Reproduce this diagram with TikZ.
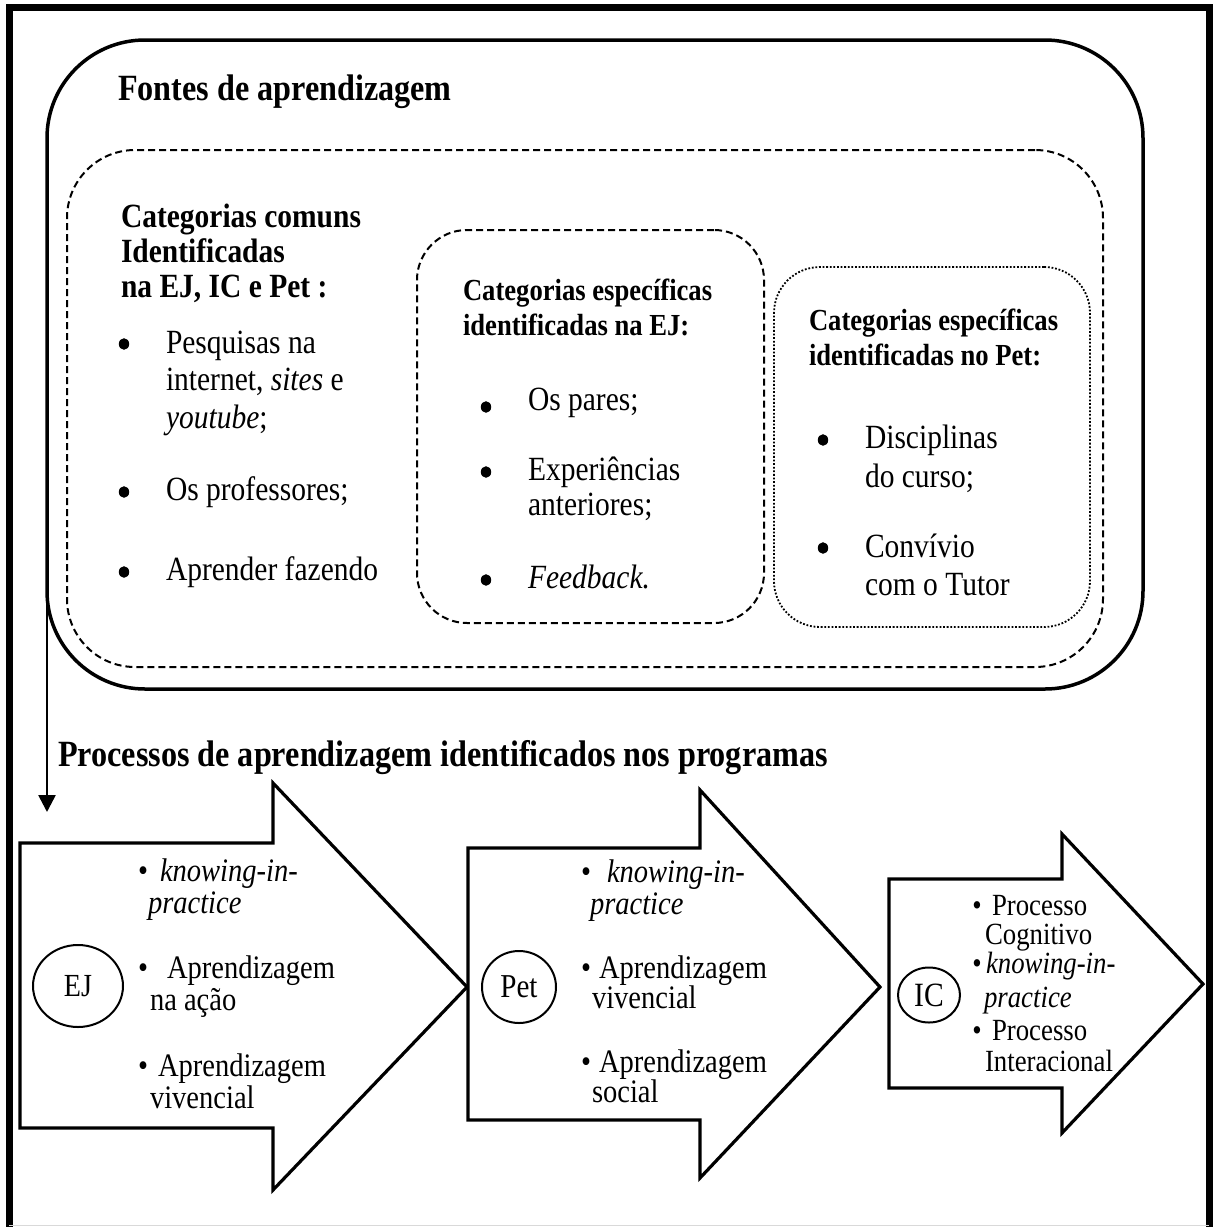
\documentclass[tikz,border=0pt]{standalone}
\usepackage{fontspec}
\setmainfont[FakeStretch=0.87]{Liberation Serif}
\usetikzlibrary{arrows.meta,shapes.geometric}
\begin{document}
\begin{tikzpicture}[x=0.5pt,y=-0.5pt,
  every node/.style={inner sep=0pt, outer sep=0pt},
  ln/.style={anchor=base west},
  tbig/.style={ln, font=\bfseries\fontsize{18.5}{21}\selectfont},
  thd/.style={ln, font=\bfseries\fontsize{16.95}{19}\selectfont},
  thds/.style={ln, font=\bfseries\fontsize{15.3}{18}\selectfont},
  tbody/.style={ln, font=\fontsize{16.95}{19}\selectfont},
  tarr/.style={ln, font=\fontsize{16.4}{18}\selectfont},
  tic/.style={ln, font=\fontsize{15.4}{17}\selectfont},
  bdot/.style={ellipse, fill=black, minimum width=5.2pt, minimum height=5.8pt},
  abul/.style={anchor=base, font=\fontsize{16.4}{18}\selectfont},
  ibul/.style={anchor=base, font=\fontsize{15.4}{17}\selectfont},
  solidbox/.style={draw, line width=1.75pt, rounded corners=49pt},
  dashbox/.style={draw, line width=1pt, dash pattern=on 3.5pt off 2pt},
  dotbox/.style={draw, line width=0.9pt, dash pattern=on 0.9pt off 0.9pt, rounded corners=23pt},
  blockarrow/.style={draw, line width=1.6pt, line join=miter, fill=white},
  prog/.style={ellipse, draw, line width=1pt},
  flow/.style={line width=1.3pt, -{Triangle[length=8.5pt,width=8.5pt]}}
]
\useasboundingbox (0,0) rectangle (1212,1227);
\fill[white] (0,0) rectangle (1212,1227);
% outer frame
\draw[line width=3.5pt] (9,1227) -- (9,7) -- (1209,7) -- (1209,1227);
\draw[gray!30, line width=0.5pt] (9,1225) -- (1209,1225);

% boxes
\node[solidbox, minimum width=548pt, minimum height=324.5pt] (fontes) at (595,364.5) {};
\node[dashbox, rounded corners=34pt, minimum width=518pt, minimum height=258.5pt] (comuns) at (585,408.5) {};
\node[dashbox, rounded corners=25pt, minimum width=173.5pt, minimum height=196.5pt] (espej) at (590.5,426.5) {};
\node[dotbox, minimum width=158pt, minimum height=180pt] (esppet) at (932,447) {};

\node[tbig] (ttl) at (118,100) {Fontes de aprendizagem};

% common categories
\node[thd] (h1a) at (121,227) {Categorias comuns};
\node[thd] (h1b) at (121,262) {Identificadas};
\node[thd] (h1c) at (121,297) {na EJ, IC e Pet :};
\node[bdot] (b1) at (124,344) {};
\node[tbody] (i1a) at (166,353) {Pesquisas na};
\node[tbody] (i1b) at (166,390.5) {internet, \textit{sites} e};
\node[tbody] (i1c) at (166,428) {\textit{youtube};};
\node[bdot] (b2) at (124,492) {};
\node[tbody] (i2) at (166,500) {Os professores;};
\node[bdot] (b3) at (124,572) {};
\node[tbody] (i3) at (166,580) {Aprender fazendo};

% EJ specific
\node[thds] (h2a) at (463,300) {Categorias específicas};
\node[thds] (h2b) at (463,335) {identificadas na EJ:};
\node[bdot] (b4) at (486,407) {};
\node[tbody] (m1) at (528,410) {Os pares;};
\node[bdot] (b5) at (486,472) {};
\node[tbody] (m2a) at (528,480) {Experiências};
\node[tbody] (m2b) at (528,515) {anteriores;};
\node[bdot] (b6) at (486,580) {};
\node[tbody] (m3) at (528,588) {\textit{Feedback.}};

% Pet specific
\node[thds] (h3a) at (809,330) {Categorias específicas};
\node[thds] (h3b) at (809,365) {identificadas no Pet:};
\node[bdot] (b7) at (823,440) {};
\node[tbody] (p1a) at (865,448) {Disciplinas};
\node[tbody] (p1b) at (865,487) {do curso;};
\node[bdot] (b8) at (823,548) {};
\node[tbody] (p2a) at (865,557) {Convívio};
\node[tbody] (p2b) at (865,595) {com o Tutor};

% processes title
\node[tbig] (ttl2) at (58,766) {Processos de aprendizagem identificados nos programas};

% connector
\coordinate (flowend) at (47,812);
\draw[flow] (fontes.west) -- (flowend);

% block arrows
\draw[blockarrow] (20,843) -- (273,843) -- (273,783) -- (467,987) -- (273,1190) -- (273,1128) -- (20,1128) -- cycle;
\draw[blockarrow] (468,848) -- (700,848) -- (700,790) -- (880,987) -- (700,1178) -- (700,1120) -- (468,1120) -- cycle;
\draw[blockarrow] (889,879) -- (1062,879) -- (1062,834) -- (1203,984) -- (1062,1133) -- (1062,1088) -- (889,1088) -- cycle;

% EJ
\node[prog, minimum width=45pt, minimum height=41pt, font=\fontsize{16.1}{18}\selectfont] (ej) at (78,986) {EJ};
\node[abul] (e1b) at (143,881) {•};
\node[tarr] (e1a) at (160,881) {\textit{knowing-in-}};
\node[tarr] (e1c) at (148,913) {\textit{practice}};
\node[abul] (e2b) at (143,978) {•};
\node[tarr] (e2a) at (167,978) {Aprendizagem};
\node[tarr] (e2c) at (150,1010) {na ação};
\node[abul] (e3b) at (143,1076) {•};
\node[tarr] (e3a) at (158,1076) {Aprendizagem};
\node[tarr] (e3c) at (150,1108) {vivencial};

% Pet
\node[prog, minimum width=37pt, minimum height=36pt, font=\fontsize{16.7}{18}\selectfont] (pet) at (519,987) {Pet};
\node[abul] (q1b) at (586,882) {•};
\node[tarr] (q1a) at (607,882) {\textit{knowing-in-}};
\node[tarr] (q1c) at (590,914) {\textit{practice}};
\node[abul] (q2b) at (586,978) {•};
\node[tarr] (q2a) at (599,978) {Aprendizagem};
\node[tarr] (q2c) at (592,1008) {vivencial};
\node[abul] (q3b) at (586,1072) {•};
\node[tarr] (q3a) at (599,1072) {Aprendizagem};
\node[tarr] (q3c) at (592,1102) {social};

% IC
\node[prog, minimum width=31pt, minimum height=27.5pt, font=\fontsize{17}{18}\selectfont] (ic) at (929,995) {IC};
\node[ibul] (r1b) at (977,915) {•};
\node[tic] (r1a) at (992,915) {Processo};
\node[tic] (r1c) at (985,944) {Cognitivo};
\node[ibul] (r2b) at (977,973) {•};
\node[tic] (r2a) at (986,973) {\textit{knowing-in-}};
\node[tic] (r2c) at (984,1007) {\textit{practice}};
\node[ibul] (r3b) at (977,1040) {•};
\node[tic] (r3a) at (992,1040) {Processo};
\node[tic] (r3c) at (985,1071) {Interacional};
\end{tikzpicture}
\end{document}
